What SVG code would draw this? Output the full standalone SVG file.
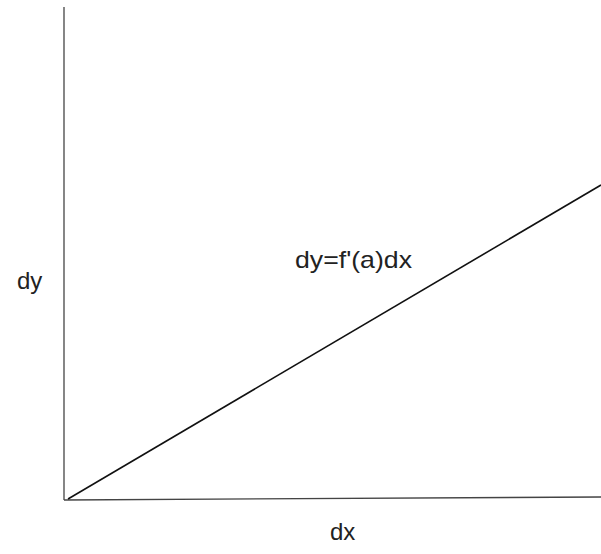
<svg xmlns="http://www.w3.org/2000/svg" width="601" height="554" viewBox="0 0 601 554">
  <style>
    .axis { stroke: #444; stroke-width: 1.3; fill: none; }
    .curve { stroke: #111; stroke-width: 1.6; fill: none; }
    .lbl { font-family: "Liberation Sans", Arial, sans-serif; font-size: 24px; fill: #222; }
  </style>
  <rect width="601" height="554" fill="#fff"/>
  <g id="connectors">
    <line class="axis" x1="64" y1="7" x2="64" y2="500"/>
    <line class="axis" x1="64" y1="500" x2="601" y2="497"/>
    <line class="curve" x1="68" y1="499" x2="601" y2="185"/>
  </g>
  <g id="label-dy"><text class="lbl" x="17" y="289">dy</text></g>
  <g id="label-dx"><text class="lbl" x="330" y="540">dx</text></g>
  <g id="label-eq"><text class="lbl" x="295" y="268" textLength="117" lengthAdjust="spacingAndGlyphs">dy=f'(a)dx</text></g>
</svg>
